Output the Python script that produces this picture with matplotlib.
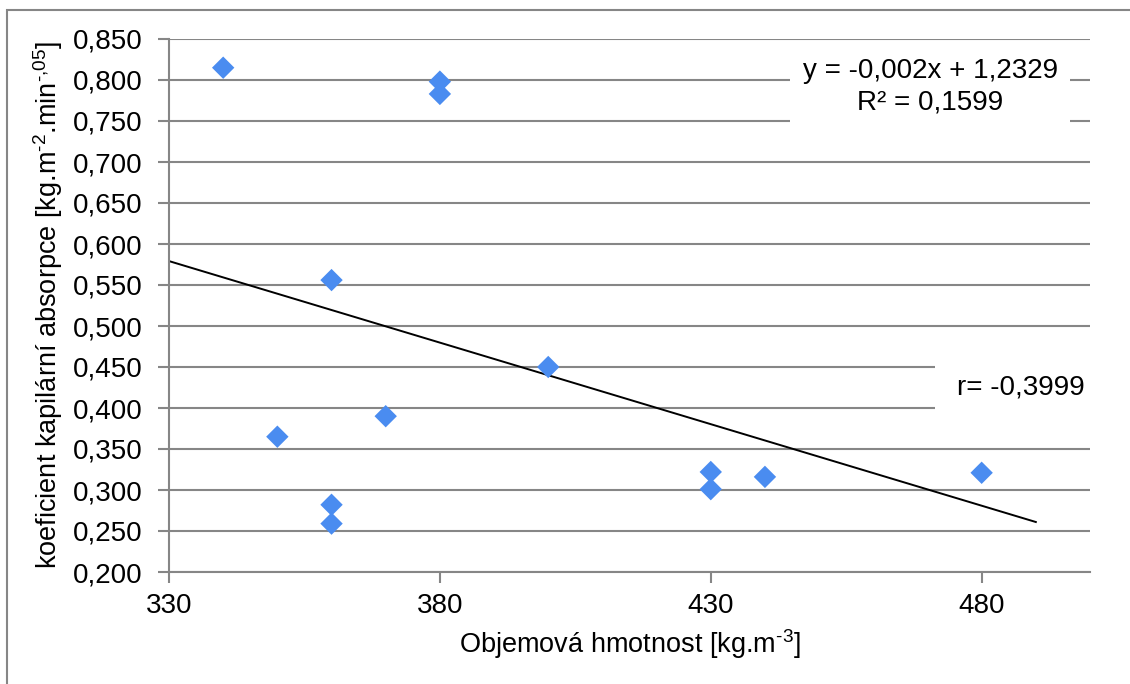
import numpy as np
import matplotlib
matplotlib.use("Agg")
import matplotlib.pyplot as plt
from matplotlib.patches import Rectangle
from matplotlib.ticker import FuncFormatter

# Data
density = [340, 380, 380, 360, 400, 350, 370, 360, 360, 430, 430, 440, 480]
absorption = [0.815, 0.798, 0.783, 0.556, 0.450, 0.365, 0.390, 0.282, 0.259,
              0.322, 0.301, 0.316, 0.321]
x_ticks = [330, 380, 430, 480]
y_ticks = [0.200, 0.250, 0.300, 0.350, 0.400, 0.450, 0.500, 0.550, 0.600,
           0.650, 0.700, 0.750, 0.800, 0.850]
trend_range = [330, 490]
eq_text = "y = -0,002x + 1,2329\nR² = 0,1599"
r_text = "r= -0,3999"

plt.rcParams['font.family'] = ['Liberation Sans', 'DejaVu Sans']
plt.rcParams['mathtext.fontset'] = 'custom'
plt.rcParams['mathtext.rm'] = 'Liberation Sans'
FS = 20
GRAY = '#868686'

fig = plt.figure(figsize=(11.30, 6.84), dpi=100)
ax = fig.add_axes([169/1130, 1-572/684, (1090-169)/1130, (572-39)/684])

# figure border (only left and top visible)
fig.patches.append(Rectangle((7/1130, -0.1), 1.2, 1.1 - 10/684,
                             transform=fig.transFigure, fill=False,
                             edgecolor=GRAY, linewidth=1.5, zorder=0))

ax.set_xlim(330, 500)
ax.set_ylim(0.2, 0.85)
ax.set_xticks(x_ticks)
ax.set_yticks(y_ticks)
ax.yaxis.set_major_formatter(FuncFormatter(lambda v, p: f"{v:.3f}".replace('.', ',')))
ax.tick_params(axis='both', direction='out', length=8, width=1.5, color=GRAY,
               labelsize=FS, labelcolor='black')
ax.tick_params(axis='y', pad=11)
ax.tick_params(axis='x', pad=7)
ax.grid(axis='y', color=GRAY, linewidth=1.5, zorder=0)
ax.set_axisbelow(True)
for s in ['top', 'right']:
    ax.spines[s].set_visible(False)
for s in ['left', 'bottom']:
    ax.spines[s].set_color(GRAY)
    ax.spines[s].set_linewidth(1.5)

ax.scatter(density, absorption, marker='D', s=130, color='#4A8CF0',
           edgecolors='none', zorder=3, clip_on=False)

slope, intercept = np.polyfit(density, absorption, 1)
tx = np.array(trend_range, dtype=float)
ax.plot(tx, slope*tx + intercept, color='black', linewidth=1.4, zorder=2)

ax.text(470.5, 0.792, eq_text, ha='center', va='center', fontsize=FS,
        linespacing=1.3,
        bbox=dict(facecolor='white', edgecolor='none', boxstyle='square,pad=0.45'),
        zorder=4)
ax.text(487.3, 0.4255, r_text, ha='center', va='center', fontsize=FS,
        bbox=dict(facecolor='white', edgecolor='none', boxstyle='square,pad=0.8'),
        zorder=4, clip_on=False)

ax.set_xlabel(r'Objemová hmotnost [kg.m$^{\text{-3}}$]', fontsize=19.5, labelpad=6)
ax.set_ylabel(r'koeficient kapilární absorpce [kg.m$^{\text{-2}}$.min$^{\text{-,05}}$]',
              fontsize=19.5, labelpad=6)

fig.savefig('out.png', dpi=100)
